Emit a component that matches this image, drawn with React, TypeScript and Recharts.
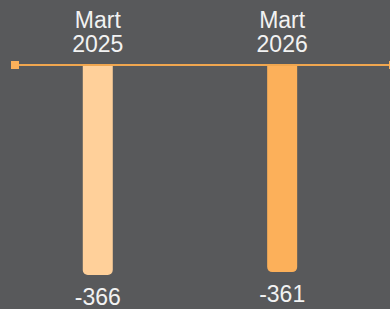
import React from 'react';
import { ComposedChart, Bar, Cell, XAxis, YAxis, ReferenceLine, ReferenceDot, LabelList } from 'recharts';

const periods = ['Mart 2025', 'Mart 2026'];
const positions = [1, 2];
const values = [-366, -361];
const barColors = ['#ffd09a', '#fcb05a'];
const lineEnds = [0.55, 2.6];

const data = periods.map((p, i) => ({ name: p, x: positions[i], value: values[i] }));

const TEXT = '#f2f2f2';
const FONT = '"Liberation Sans", Arial, Helvetica, sans-serif';

const ValueLabel = (props: any) => {
  const { x, y, width, height, value } = props;
  const bottom = Math.max(y, y + height);
  return (
    <text x={x + width / 2} y={bottom + 30} textAnchor="middle" fill={TEXT} fontSize={23} fontFamily={FONT}>
      {value}
    </text>
  );
};

const PeriodLabel = (props: any) => {
  const { x, y, width, height, value } = props;
  const top = Math.min(y, y + height);
  const [month, year] = String(value).split(' ');
  const cx = x + width / 2;
  return (
    <text textAnchor="middle" fill={TEXT} fontSize={23} fontFamily={FONT}>
      <tspan x={cx} y={top - 37}>{month}</tspan>
      <tspan x={cx} y={top - 13}>{year}</tspan>
    </text>
  );
};

const SquareDot = (props: any) => {
  const { cx, cy } = props;
  return <rect x={cx - 4} y={cy - 4} width={8} height={8} fill="#fbb05a" />;
};

export default function App() {
  return (
    <div style={{ position: 'fixed', left: 0, top: 0, width: 390, height: 309, overflow: 'hidden', background: '#58595b' }}>
      <ComposedChart width={398} height={309} data={data} margin={{ top: 65, right: 5, bottom: 14.5, left: 15 }}>
        <XAxis type="number" dataKey="x" domain={[lineEnds[0], lineEnds[1]]} hide allowDataOverflow />
        <YAxis type="number" domain={[-400, 0]} hide allowDataOverflow />
        <ReferenceLine y={0} stroke="#f0a64f" strokeWidth={2} ifOverflow="visible" />
        <Bar dataKey="value" barSize={30} radius={[5, 5, 0, 0]} isAnimationActive={false}>
          {data.map((d, i) => (
            <Cell key={d.name} fill={barColors[i]} />
          ))}
          <LabelList dataKey="value" content={<ValueLabel />} />
          <LabelList dataKey="name" content={<PeriodLabel />} />
        </Bar>
        {lineEnds.map((x) => (
          <ReferenceDot key={x} x={x} y={0} ifOverflow="visible" shape={<SquareDot />} />
        ))}
      </ComposedChart>
    </div>
  );
}
